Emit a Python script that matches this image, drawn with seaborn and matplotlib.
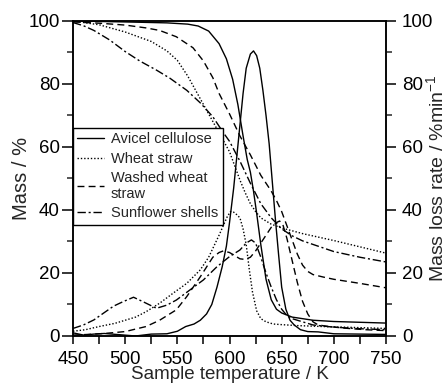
import matplotlib
matplotlib.use("Agg")
import matplotlib.pyplot as plt
from matplotlib.ticker import MultipleLocator
import seaborn as sns

# mass curves (TG), left axis
avicel_tg_T = [450, 500, 540, 560, 570, 580, 590, 597, 603, 608, 613, 617, 620, 623, 626, 630, 635, 640, 645, 650, 660, 680, 700, 750]
avicel_tg = [100, 99.7, 99.4, 99, 98.4, 96.8, 92.8, 88, 81.5, 73.5, 63.5, 56, 52, 46, 39, 29, 18, 11.5, 8.5, 7.3, 6, 5, 4.6, 4.1]

wheat_tg_T = [450, 475, 500, 525, 540, 550, 560, 570, 580, 590, 600, 605, 610, 615, 620, 625, 630, 640, 650, 670, 700, 725, 750]
wheat_tg = [100, 98.8, 96.5, 93.5, 90.5, 87.5, 82.5, 76.5, 70.5, 64.5, 58.5, 54, 49.5, 45.5, 42, 39.5, 37.5, 35.5, 34.3, 32.5, 30.3, 28.3, 26.3]

washed_tg_T = [450, 475, 500, 520, 533, 549, 565, 575, 584, 590, 600, 610, 620, 630, 640, 645, 650, 655, 660, 665, 670, 675, 680, 690, 700, 725, 750]
washed_tg = [99.7, 99.3, 98.7, 97.8, 97, 95, 91.5, 87.3, 82, 77, 70.5, 63.5, 57.5, 51, 46, 43, 39.5, 35, 30.5, 26, 22.5, 20.5, 19.5, 18.7, 18, 16.7, 15.3]

sunflower_tg_T = [450, 460, 470, 485, 500, 514, 530, 543, 559, 572, 584, 594, 600, 610, 620, 630, 640, 650, 660, 670, 685, 700, 725, 750]
sunflower_tg = [99.5, 98.5, 97, 94, 90.3, 87.3, 84.4, 81.8, 78, 74, 69.6, 64.6, 61.8, 55.5, 48.5, 42, 37.5, 34, 31.8, 30.2, 28.5, 26.8, 25, 23.5]

# mass loss rate curves (DTG), right axis
avicel_dtg_T = [450, 460, 470, 480, 495, 510, 525, 540, 550, 558, 566, 572, 578, 583, 588, 593, 597, 600, 604, 607, 610, 613, 616, 620, 623, 626, 629, 632, 635, 638, 641, 644, 647, 650, 654, 658, 662, 668, 675, 685, 700, 725, 750]
avicel_dtg = [1, 0.3, 0.6, 0.8, 0.4, 0, 0.6, 0.7, 1.5, 3, 3.8, 5, 7, 10, 15.5, 22, 28.5, 36, 47, 57, 67, 77, 85, 89.5, 90.5, 89, 85, 78, 70, 61, 49, 37, 26, 15.5, 8.5, 5, 3.5, 2, 1.4, 1.3, 0.7, 0.6, 0.5]

wheat_dtg_T = [450, 462, 475, 490, 500, 510, 520, 533, 546, 559, 572, 580, 585, 590, 594, 598, 601, 604, 607, 610, 613, 616, 619, 622, 626, 630, 635, 642, 650, 665, 690, 720, 750]
wheat_dtg = [1.5, 2, 3, 4, 5, 6, 7.7, 10.4, 13.6, 16.7, 21, 25, 28.5, 32, 35, 38, 39.5, 39.3, 38.5, 37.5, 34, 29, 21, 14, 8, 5.5, 4.5, 3.8, 3.6, 3.3, 3, 2.7, 2.4]

washed_dtg_T = [450, 465, 480, 500, 520, 533, 549, 559, 572, 584, 590, 594, 600, 605, 610, 615, 620, 625, 630, 635, 640, 645, 648, 651, 655, 660, 665, 670, 675, 680, 685, 695, 710, 730, 750]
washed_dtg = [0.3, 0.5, 0.8, 1.4, 3, 5, 8.3, 12.5, 18.8, 25, 26.5, 27, 26.5, 25.5, 24.5, 24.3, 25, 27, 29.5, 32, 34.5, 36, 36.5, 35.5, 31, 24, 17, 11, 7, 4.5, 3.5, 3, 2.5, 2, 1.7]

sunflower_dtg_T = [450, 460, 470, 479, 489, 498, 508, 517, 530, 540, 549, 562, 575, 588, 600, 610, 616, 621, 625, 630, 635, 640, 645, 650, 655, 660, 670, 680, 700, 725, 750]
sunflower_dtg = [2.4, 3.5, 5.1, 7.2, 9.5, 10.9, 12.3, 10.9, 8.8, 9.8, 11.4, 14.6, 17.8, 22, 25.2, 27.3, 29.5, 30.5, 29.5, 25, 20, 15.5, 11.5, 8.5, 6.5, 5.5, 4.5, 3.5, 2.8, 2.3, 2]

labels = ["Avicel cellulose", "Wheat straw", "Washed wheat\nstraw", "Sunflower shells"]

sns.set_style("ticks")
plt.rcParams["font.family"] = ["Liberation Sans", "DejaVu Sans"]
plt.rcParams["mathtext.fontset"] = "custom"
plt.rcParams["mathtext.rm"] = "Liberation Sans"
plt.rcParams["mathtext.it"] = "Liberation Sans"
plt.rcParams["axes.edgecolor"] = "black"
plt.rcParams["axes.linewidth"] = 1.1

styles = ["-", (0, (1, 1.4)), (0, (5, 3)), (0, (6, 2, 1.5, 2))]
lw = 1.0

fig = plt.figure(figsize=(4.46, 3.85), dpi=100)
ax = fig.add_axes([0.1637, 0.1273, 0.7018, 0.8182])
ax2 = ax.twinx()

tg = [(avicel_tg_T, avicel_tg), (wheat_tg_T, wheat_tg), (washed_tg_T, washed_tg), (sunflower_tg_T, sunflower_tg)]
dtg = [(avicel_dtg_T, avicel_dtg), (wheat_dtg_T, wheat_dtg), (washed_dtg_T, washed_dtg), (sunflower_dtg_T, sunflower_dtg)]

handles = []
for (t, m), ls in zip(tg, styles):
    sns.lineplot(x=t, y=m, ax=ax, color="black", linestyle=ls, linewidth=lw)
    handles.append(ax.lines[-1])
for (t, r), ls in zip(dtg, styles):
    sns.lineplot(x=t, y=r, ax=ax2, color="black", linestyle=ls, linewidth=lw)

ax.set_xlim(450, 750)
ax.set_ylim(0, 100)
ax2.set_ylim(0, 100)
ax.xaxis.set_major_locator(MultipleLocator(50))
ax.xaxis.set_minor_locator(MultipleLocator(25))
for a in (ax, ax2):
    a.yaxis.set_major_locator(MultipleLocator(20))
    a.yaxis.set_minor_locator(MultipleLocator(10))

ax.tick_params(axis="y", which="major", direction="out", length=8, width=1.1, labelsize=13.5, pad=1.5, colors="black")
ax.tick_params(axis="y", which="minor", direction="out", length=4, width=1.1)
ax.tick_params(axis="x", which="both", direction="out", length=5.5, width=1.1, labelsize=13.5, pad=5, colors="black")
ax2.tick_params(axis="y", which="major", direction="out", length=7.5, width=1.1, labelsize=13.5, pad=4, colors="black")
ax2.tick_params(axis="y", which="minor", direction="out", length=4.5, width=1.1)

ax.set_xlabel("Sample temperature / K", fontsize=13.5, labelpad=-1)
ax.set_ylabel("Mass / %", fontsize=14.5, labelpad=-1.5)
ax2.set_ylabel("Mass loss rate / %min$^{-1}$", fontsize=14, labelpad=-5.8)

for a in (ax, ax2):
    for s in a.spines.values():
        s.set_visible(True)
        s.set_color("black")
        s.set_linewidth(1.1)

leg = ax.legend(handles, labels, loc="upper left", bbox_to_anchor=(0, 0.66),
                borderaxespad=0, fontsize=10.5, frameon=True, fancybox=False,
                edgecolor="black", framealpha=1, handlelength=1.8,
                handletextpad=0.5, borderpad=0.3, labelspacing=0.36)
leg.get_frame().set_linewidth(1.0)
leg.set_zorder(5)

fig.savefig("out.png", dpi=100)
